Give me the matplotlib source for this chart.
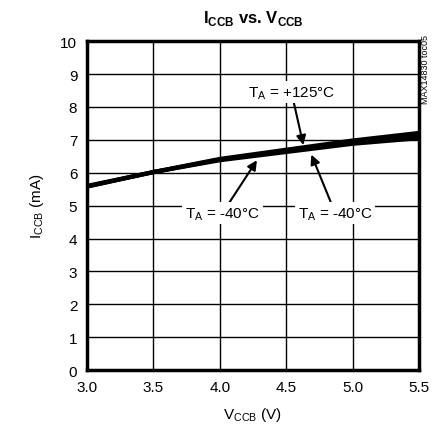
import matplotlib
matplotlib.use('Agg')
import matplotlib.pyplot as plt

plt.rcParams['font.family'] = ['Liberation Sans Narrow', 'Liberation Sans', 'DejaVu Sans']
plt.rcParams['mathtext.fontset'] = 'custom'
plt.rcParams['mathtext.rm'] = 'Liberation Sans'

# supply current vs. supply voltage, three temperatures
vccb = [3.0, 3.5, 4.0, 4.5, 5.0, 5.5]
iccb_hot = [5.58, 6.02, 6.42, 6.70, 6.98, 7.21]
iccb_room = [5.58, 6.02, 6.40, 6.67, 6.93, 7.13]
iccb_cold = [5.60, 6.02, 6.38, 6.63, 6.88, 7.05]

xticks = [3.0, 3.5, 4.0, 4.5, 5.0, 5.5]
yticks = list(range(0, 11))

fig = plt.figure(figsize=(4.35, 4.35), dpi=100)
ax = fig.add_axes([0.200, 0.147, 0.763, 0.756])

for y in (iccb_hot, iccb_room, iccb_cold):
    ax.plot(vccb, y, color='black', lw=3.0, solid_capstyle='butt', zorder=3)

ax.set_xlim(3.0, 5.5)
ax.set_ylim(0, 10)
ax.set_xticks(xticks)
ax.set_xticklabels(['%.1f' % t for t in xticks])
ax.set_yticks(yticks)
ax.tick_params(length=0, labelsize=11, pad=7)
ax.grid(True, color='black', lw=1.0)
for s in ax.spines.values():
    s.set_linewidth(2.5)

ax.set_title(r'I$_\mathregular{CCB}$ vs. V$_\mathregular{CCB}$', fontsize=12,
             fontweight='bold', pad=14)
ax.set_xlabel(r'V$_\mathregular{CCB}$ (V)', fontsize=11, labelpad=8)
ax.set_ylabel(r'I$_\mathregular{CCB}$ (mA)', fontsize=11, labelpad=10)

box = dict(facecolor='white', edgecolor='none', pad=2)
arrow = dict(arrowstyle='-|>', color='black', lw=1.5, mutation_scale=14,
             shrinkA=0, shrinkB=0)
ax.annotate(r'T$_\mathregular{A}$ = +125°C', xy=(4.63, 6.84), xytext=(4.54, 8.45),
            fontsize=11, ha='center', va='center', bbox=box, arrowprops=arrow, zorder=5)
ax.annotate(r'T$_\mathregular{A}$ = -40°C', xy=(4.28, 6.38), xytext=(4.02, 4.77),
            fontsize=11, ha='center', va='center', bbox=box, arrowprops=arrow, zorder=5)
ax.annotate(r'T$_\mathregular{A}$ = -40°C', xy=(4.69, 6.55), xytext=(4.87, 4.77),
            fontsize=11, ha='center', va='center', bbox=box, arrowprops=arrow, zorder=5)

fig.text(0.978, 0.84, 'MAX14830 toc05', rotation=90, fontsize=6.5,
         ha='center', va='center')

fig.savefig('out.png', dpi=100)
